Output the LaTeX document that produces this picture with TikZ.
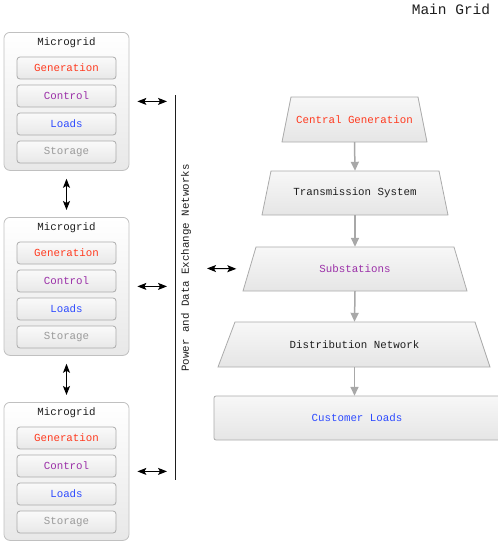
\documentclass[tikz,border=0pt]{standalone}
\usepackage{fontspec}
\setmainfont{Liberation Mono}
\usetikzlibrary{arrows.meta,calc}
\definecolor{genred}{HTML}{FF3A1F}
\definecolor{ctrlpurple}{HTML}{9B30A8}
\definecolor{loadblue}{HTML}{2E4BFF}
\definecolor{storegray}{HTML}{9A9A9A}
\definecolor{ink}{HTML}{1E1E1E}
\definecolor{outeredge}{HTML}{C0C0C0}
\definecolor{inneredge}{HTML}{ABABAB}
\definecolor{flowgray}{HTML}{A8A8A8}
\begin{document}
\begin{tikzpicture}[x=1pt,y=-1pt,
  font=\fontsize{10.8}{13}\selectfont,
  gridbox/.style={draw=outeredge, rounded corners=6pt, top color=white, bottom color=black!9,
    minimum width=125pt, minimum height=138pt, inner sep=0pt, line width=0.8pt},
  unitbox/.style={draw=inneredge, rounded corners=3pt, top color=black!2, bottom color=black!9,
    minimum width=99pt, minimum height=22pt, inner sep=0pt, line width=0.8pt},
  stage/.style={draw=inneredge, top color=black!3, bottom color=black!10, line width=0.8pt},
  stagelabel/.style={inner sep=0pt, text=ink},
  flow/.style={draw=flowgray, line width=1.5pt, -{Triangle[length=9pt,width=8pt]}},
  link/.style={draw=black, line width=1pt, {Stealth[length=9pt,width=7pt,inset=2pt]}-{Stealth[length=9pt,width=7pt,inset=2pt]}}]
\useasboundingbox (0,0) rectangle (498,544);

% title
\node[text=ink, font=\fontsize{14.5}{16}\selectfont] (title) at (451,9) {Main Grid};

% three microgrids
\foreach \i/\y in {1/32,2/217,3/402}{
  \node[gridbox, anchor=north] (mg\i) at (66.5,\y) {};
  \node[text=ink] (mgt\i) at (66.5,\y+11) {Microgrid};
  \node[unitbox, text=genred] (gen\i) at (66.5,\y+36) {Generation};
  \node[unitbox, text=ctrlpurple] (ctl\i) at (66.5,\y+64) {Control};
  \node[unitbox, text=loadblue] (lod\i) at (66.5,\y+92) {Loads};
  \node[unitbox, text=storegray] (sto\i) at (66.5,\y+120) {Storage};
}

% exchange bus
\coordinate (busN) at (175,95);
\coordinate (busS) at (175,480);
\coordinate (busM) at (175,268);
\draw[line width=1pt, ink] (busN) -- (busS);
\node[rotate=90, text=ink] (buslabel) at (186,268) {Power and Data Exchange Networks};

\foreach \i in {1,2,3}
  \draw[link, shorten <=8pt, shorten >=8pt] (mg\i.east) -- (mg\i.east -| busN);
\draw[link, shorten <=8pt, shorten >=7pt] (mg1.south) -- (mg2.north);
\draw[link, shorten <=8pt, shorten >=7pt] (mg2.south) -- (mg3.north);

% main grid stages
\path[stage] (291,97) -- (418,97) -- (427,142) -- (282,142) -- cycle;
\path[stage] (271,171) -- (439,171) -- (448,215) -- (262,215) -- cycle;
\path[stage] (256,247) -- (454,247) -- (467,291) -- (243,291) -- cycle;
\path[stage] (235,322) -- (475,322) -- (490,367) -- (218,367) -- cycle;
\path[stage, rounded corners=2pt] (214,396) rectangle (500,440);

\node[stagelabel, text=genred, minimum width=136pt, minimum height=45pt] (cg) at (354.5,119.5) {Central Generation};
\node[stagelabel, minimum width=177pt, minimum height=44pt] (ts) at (355,193) {Transmission System};
\node[stagelabel, text=ctrlpurple, minimum width=211pt, minimum height=44pt] (ss) at (355,269) {Substations};
\node[stagelabel, minimum width=256pt, minimum height=45pt] (dn) at (354.5,344.5) {Distribution Network};
\node[stagelabel, text=loadblue, minimum width=286pt, minimum height=44pt] (cl) at (357,418) {Customer Loads};

\draw[flow] (cg.south) -- (ts.north);
\draw[flow] (ts.south) -- (ss.north);
\draw[flow] (ss.south) -- (dn.north);
\draw[flow] (dn.south) -- (dn.south |- cl.north);

\draw[link, shorten <=32pt, shorten >=13pt] (busM) -- (ss.west);
\end{tikzpicture}
\end{document}
